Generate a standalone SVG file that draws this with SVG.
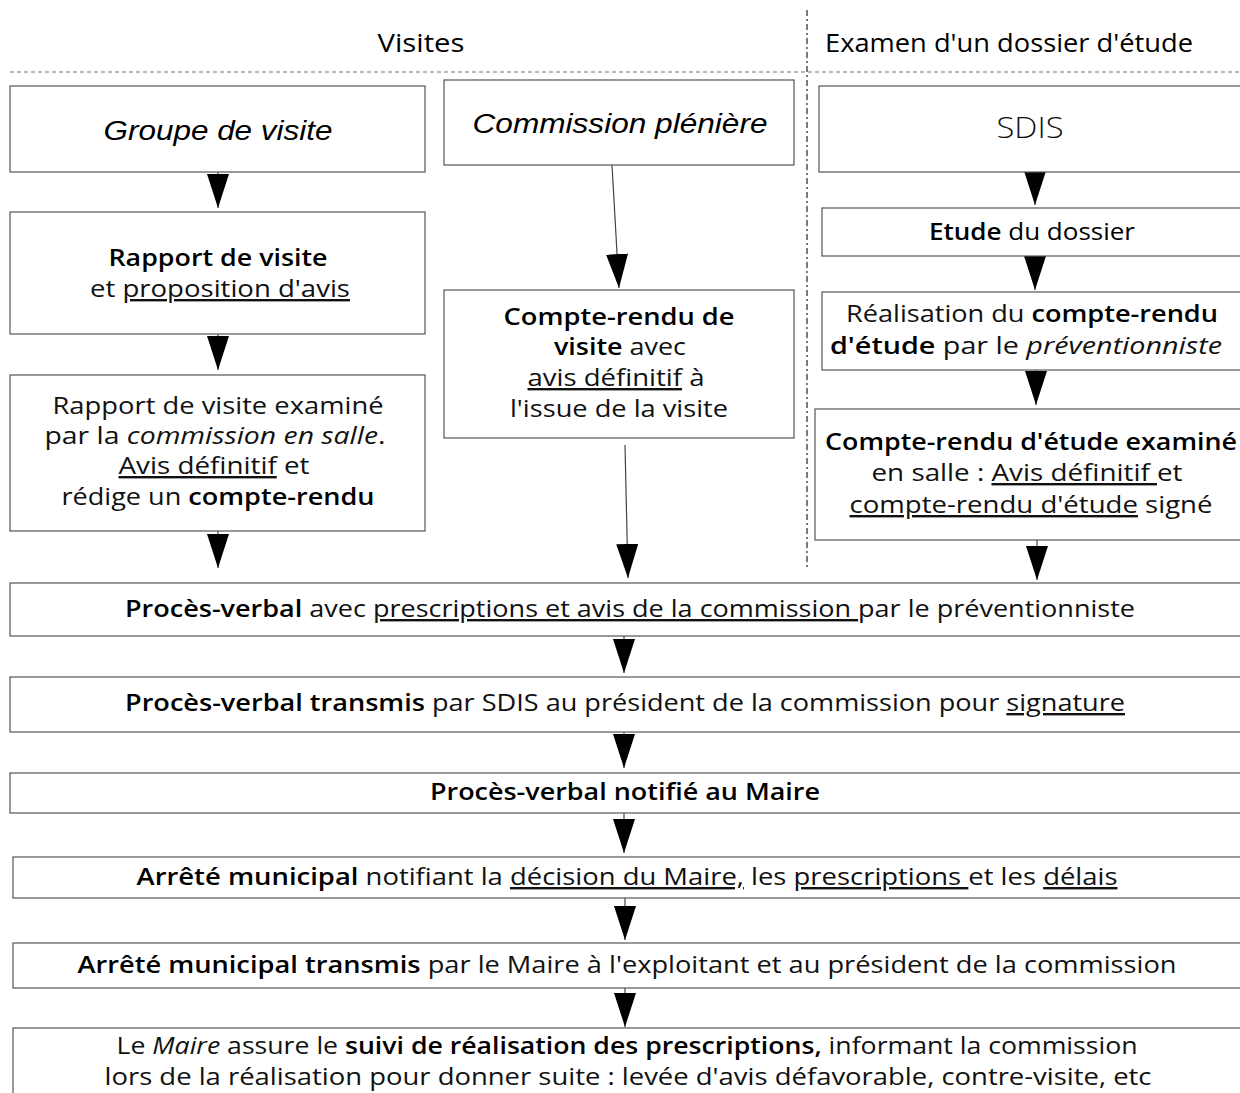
<svg xmlns="http://www.w3.org/2000/svg" width="1240" height="1093" viewBox="0 0 1240 1093">
  <style>
    text { font-family: "Open Sans", "Noto Sans", "DejaVu Sans", sans-serif; font-size: 24px; fill: #111; text-anchor: middle; }
    .title { font-size: 25px; fill: #000; }
    .arial { font-family: "Liberation Sans", Arial, sans-serif; font-style: italic; font-size: 27px; fill: #000; }
    .sdis { font-size: 29px; font-weight: 300; }
    .b { font-weight: 600; fill: #000; }
    .m { font-weight: 500; fill: #000; }
    .i { font-style: italic; }
    .u { text-decoration: underline; }
    .box { fill: #fff; stroke: #555; stroke-width: 1.2; }
    .stem { stroke: #444; stroke-width: 1.2; fill: none; marker-end: url(#tri); }
    .sep-h { stroke: #777; stroke-width: 1.2; stroke-dasharray: 4 3; }
    .sep-v { stroke: #222; stroke-width: 1.2; stroke-dasharray: 6 3 2 3; }
  </style>
  <defs>
    <marker id="tri" viewBox="0 0 34 22" refX="34" refY="11" markerWidth="34" markerHeight="22" markerUnits="userSpaceOnUse" orient="auto">
      <path d="M0,0 L34,11 L0,22 Z" fill="#000"/>
    </marker>
  </defs>

  <rect width="1240" height="1093" fill="#fff"/>

  <!-- column headings and separators -->
  <g id="headers">
    <text class="title" x="421" y="52" textLength="87" lengthAdjust="spacingAndGlyphs">Visites</text>
    <text class="title" x="1009" y="52" textLength="368" lengthAdjust="spacingAndGlyphs">Examen d'un dossier d'étude</text>
    <line class="sep-h" x1="10" y1="72" x2="1240" y2="72"/>
    <line class="sep-v" x1="807" y1="10" x2="807" y2="570"/>
  </g>

  <!-- connectors -->
  <g id="connectors">
    <line class="stem" x1="218" y1="172" x2="218" y2="208"/>
    <line class="stem" x1="218" y1="334" x2="218" y2="370"/>
    <line class="stem" x1="218" y1="531" x2="218" y2="568"/>
    <line class="stem" x1="612" y1="165" x2="619" y2="288"/>
    <line class="stem" x1="625" y1="445" x2="628" y2="578"/>
    <line class="stem" x1="1035" y1="172" x2="1035" y2="205"/>
    <line class="stem" x1="1035" y1="256" x2="1035" y2="290"/>
    <line class="stem" x1="1036" y1="370" x2="1036" y2="405"/>
    <line class="stem" x1="1037" y1="540" x2="1037" y2="580"/>
    <line class="stem" x1="624" y1="636" x2="624" y2="673"/>
    <line class="stem" x1="624" y1="732" x2="624" y2="768"/>
    <line class="stem" x1="624" y1="813" x2="624" y2="853"/>
    <line class="stem" x1="625" y1="898" x2="625" y2="940"/>
    <line class="stem" x1="625" y1="988" x2="625" y2="1027"/>
  </g>

  <!-- Visites: groupe de visite -->
  <g id="groupe-visite">
    <rect class="box" x="10" y="86" width="415" height="86"/>
    <text class="arial" x="218" y="140" textLength="229" lengthAdjust="spacingAndGlyphs">Groupe de visite</text>
  </g>

  <g id="rapport-visite">
    <rect class="box" x="10" y="212" width="415" height="122"/>
    <text x="218" y="266" class="b" textLength="219" lengthAdjust="spacingAndGlyphs">Rapport de visite</text>
    <text x="220" y="297" textLength="260" lengthAdjust="spacingAndGlyphs">et <tspan class="u">proposition d'avis</tspan></text>
  </g>

  <g id="rapport-examine">
    <rect class="box" x="10" y="375" width="415" height="156"/>
    <text x="218" y="414" textLength="331" lengthAdjust="spacingAndGlyphs">Rapport de visite examiné</text>
    <text x="215" y="444" textLength="341" lengthAdjust="spacingAndGlyphs">par la <tspan class="i">commission en salle</tspan>.</text>
    <text x="214" y="474" textLength="191" lengthAdjust="spacingAndGlyphs"><tspan class="u">Avis définitif</tspan> et</text>
    <text x="218" y="505" textLength="313" lengthAdjust="spacingAndGlyphs">rédige un <tspan class="b">compte-rendu</tspan></text>
  </g>

  <!-- Visites: commission plénière -->
  <g id="commission-pleniere">
    <rect class="box" x="444" y="80" width="350" height="85"/>
    <text class="arial" x="620" y="133" textLength="295" lengthAdjust="spacingAndGlyphs">Commission plénière</text>
  </g>

  <g id="compte-rendu-visite">
    <rect class="box" x="444" y="290" width="350" height="148"/>
    <text x="619" y="325" class="b" textLength="231" lengthAdjust="spacingAndGlyphs">Compte-rendu de</text>
    <text x="620" y="355" textLength="132" lengthAdjust="spacingAndGlyphs"><tspan class="b">visite</tspan> avec</text>
    <text x="616" y="386" textLength="177" lengthAdjust="spacingAndGlyphs"><tspan class="u">avis définitif</tspan> à</text>
    <text x="619" y="417" textLength="218" lengthAdjust="spacingAndGlyphs">l'issue de la visite</text>
  </g>

  <!-- Examen d'un dossier d'étude -->
  <g id="sdis">
    <rect class="box" x="819" y="86" width="430" height="86"/>
    <text class="sdis" x="1030" y="138" textLength="67" lengthAdjust="spacingAndGlyphs">SDIS</text>
  </g>

  <g id="etude-dossier">
    <rect class="box" x="822" y="208" width="427" height="48"/>
    <text x="1032" y="240" textLength="206" lengthAdjust="spacingAndGlyphs"><tspan class="b">Etude</tspan> <tspan class="m">du dossier</tspan></text>
  </g>

  <g id="realisation-compte-rendu">
    <rect class="box" x="822" y="292" width="427" height="78"/>
    <text x="1032" y="322" textLength="372" lengthAdjust="spacingAndGlyphs">Réalisation du <tspan class="b">compte-rendu</tspan></text>
    <text x="1026" y="354" textLength="392" lengthAdjust="spacingAndGlyphs"><tspan class="b">d'étude</tspan> par le <tspan class="i">préventionniste</tspan></text>
  </g>

  <g id="compte-rendu-etude-examine">
    <rect class="box" x="815" y="409" width="434" height="131"/>
    <text x="1031" y="450" class="b" textLength="412" lengthAdjust="spacingAndGlyphs">Compte-rendu d'étude examiné</text>
    <text x="1027" y="481" textLength="311" lengthAdjust="spacingAndGlyphs">en salle : <tspan class="u">Avis définitif </tspan>et</text>
    <text x="1031" y="513" textLength="363" lengthAdjust="spacingAndGlyphs"><tspan class="u">compte-rendu d'étude</tspan> signé</text>
  </g>

  <!-- common steps -->
  <g id="proces-verbal">
    <rect class="box" x="10" y="583" width="1239" height="53"/>
    <text x="630" y="617" textLength="1010" lengthAdjust="spacingAndGlyphs"><tspan class="b">Procès-verbal</tspan> avec <tspan class="u">prescriptions et avis de la commission </tspan>par le préventionniste</text>
  </g>

  <g id="proces-verbal-transmis">
    <rect class="box" x="10" y="677" width="1239" height="55"/>
    <text x="625" y="711" textLength="1000" lengthAdjust="spacingAndGlyphs"><tspan class="b">Procès-verbal transmis</tspan> par SDIS au président de la commission pour <tspan class="u">signature</tspan></text>
  </g>

  <g id="proces-verbal-notifie">
    <rect class="box" x="10" y="773" width="1239" height="40"/>
    <text x="625" y="800" class="b" textLength="390" lengthAdjust="spacingAndGlyphs">Procès-verbal notifié au Maire</text>
  </g>

  <g id="arrete-municipal">
    <rect class="box" x="13" y="857" width="1236" height="41"/>
    <text x="627" y="885" textLength="981" lengthAdjust="spacingAndGlyphs"><tspan class="b">Arrêté municipal</tspan> notifiant la <tspan class="u">décision du Maire,</tspan> les <tspan class="u">prescriptions </tspan>et les <tspan class="u">délais</tspan></text>
  </g>

  <g id="arrete-transmis">
    <rect class="box" x="13" y="943" width="1236" height="45"/>
    <text x="627" y="973" textLength="1099" lengthAdjust="spacingAndGlyphs"><tspan class="b">Arrêté municipal transmis</tspan> par le Maire à l'exploitant et au président de la commission</text>
  </g>

  <g id="suivi-prescriptions">
    <rect class="box" x="13" y="1028" width="1236" height="80"/>
    <text x="627" y="1054" textLength="1021" lengthAdjust="spacingAndGlyphs">Le <tspan class="i">Maire</tspan> assure le <tspan class="b">suivi de réalisation des prescriptions,</tspan> informant la commission</text>
    <text x="628" y="1085" textLength="1047" lengthAdjust="spacingAndGlyphs">lors de la réalisation pour donner suite : levée d'avis défavorable, contre-visite, etc</text>
  </g>
</svg>
